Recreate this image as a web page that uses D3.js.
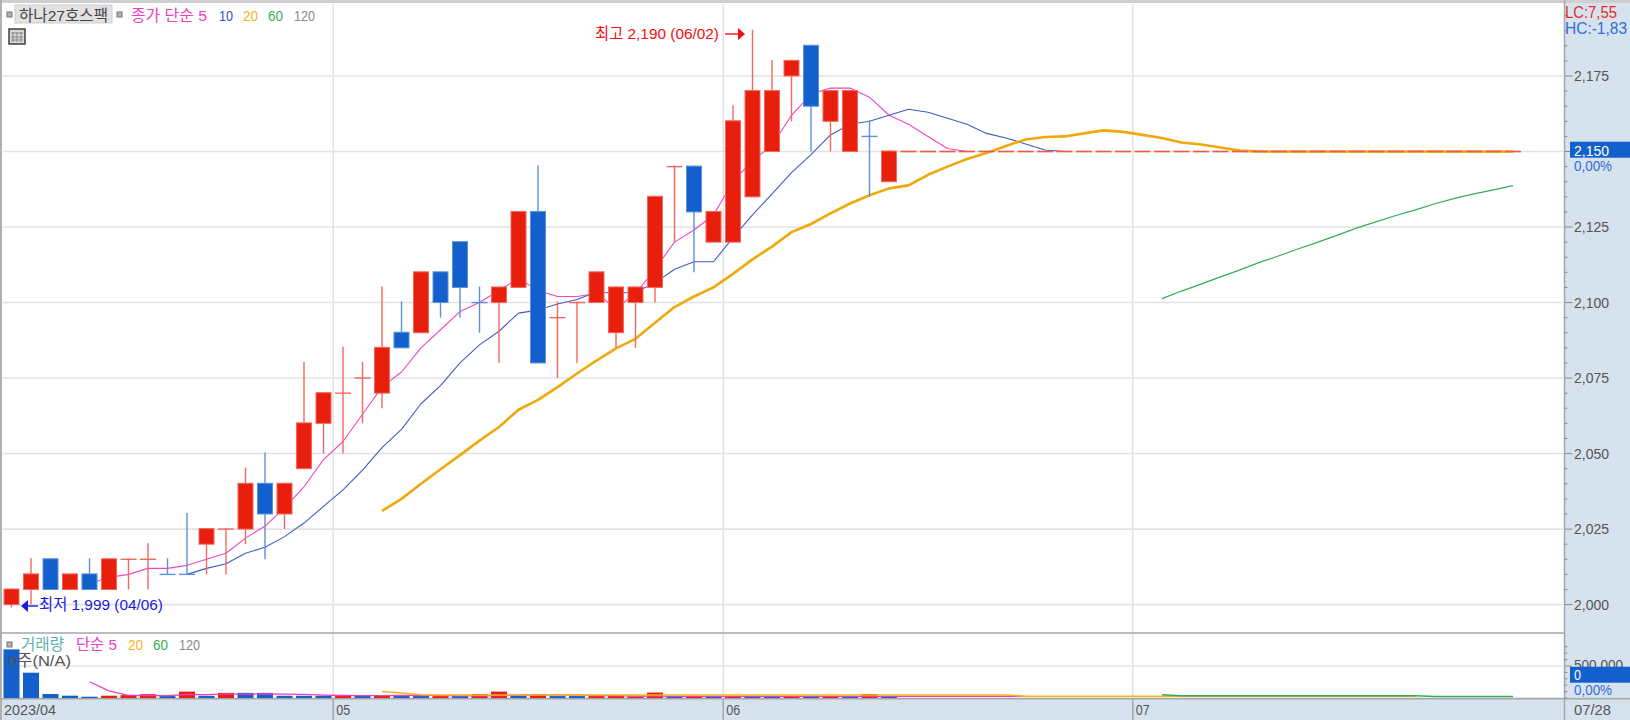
<!DOCTYPE html>
<html><head><meta charset="utf-8">
<script src="https://d3js.org/d3.v7.min.js"></script>
<style>
html,body{margin:0;padding:0;background:#fff;overflow:hidden}
svg{display:block}
text{font-family:"Liberation Sans","Noto Sans CJK KR",sans-serif}
</style></head><body>
<svg id="c" width="1630" height="720"></svg>
<script>
// ---- data ----
const opens  = [2000,2005,2015,2005,2010,2005,2015,2015,2010,2010,2020,2025,2025,2040,2030,2045,2060,2070,2075,2070,2090,2090,2110,2120,2100,2100,2105,2130,2095,2100,2100,2090,2100,2105,2145,2145,2120,2120,2135,2150,2175,2185,2160,2150,2155,2140];
const closes = [2005,2010,2005,2010,2005,2015,2015,2015,2010,2010,2025,2025,2040,2030,2040,2060,2070,2070,2075,2085,2085,2110,2100,2105,2100,2105,2130,2080,2095,2100,2110,2105,2105,2135,2145,2130,2130,2160,2170,2170,2180,2165,2170,2170,2155,2150];
const highs  = [2005,2015,2015,2010,2015,2015,2015,2020,2015,2030,2025,2025,2045,2050,2040,2080,2070,2085,2080,2105,2100,2110,2110,2120,2105,2105,2130,2145,2100,2100,2110,2105,2105,2135,2145,2145,2130,2165,2190,2180,2180,2185,2170,2170,2160,2150];
const lows   = [1999,2000,2005,2005,2005,2005,2005,2005,2010,2010,2010,2010,2020,2015,2025,2045,2050,2050,2060,2065,2085,2090,2095,2095,2090,2080,2105,2080,2075,2080,2100,2085,2085,2100,2120,2110,2120,2120,2135,2150,2160,2150,2150,2150,2135,2140];
const fallingDoji = [8,9,24,44];
const flatPrices = [2150,2150,2150,2150,2150,2150,2150,2150,2150,2150,2150,2150,2150,2150,2150,2150,2150,2150,2150,2150,2150,2150,2150,2150,2150,2150,2150,2150,2150,2150,2150,2150];
const ma5 = [2007,2009,2010,2012,2012,2013,2015,2017,2022,2026,2032,2039,2048,2054,2063,2072,2077,2085,2091,2097,2100,2104,2108,2104,2102,2102,2103,2098,2103,2111,2120,2124,2129,2140,2147,2152,2162,2169,2171,2171,2168,2162,2159,2155,2151,2150];
const ma5Start = 4;
const ma10 = [2010,2012,2013.5,2017,2019,2022.5,2027,2032.5,2038,2044.5,2052,2058,2066.5,2072.5,2080,2086,2090.5,2096.5,2097.5,2099.5,2101,2103.5,2103,2103.5,2106.5,2111,2113.5,2113.5,2121.5,2129,2136,2143,2149,2155.5,2159,2160,2162,2164,2163,2161,2159,2156,2154.5,2152.5,2150.5,2150];
const ma10Start = 9;
const ma20 = [2031,2035,2040,2044.8,2049.5,2054.3,2058.8,2064.5,2067.8,2072,2076.5,2080.8,2084.8,2088,2093.3,2098.5,2102,2105,2109.5,2114.3,2118.5,2123.3,2126,2129.5,2132.8,2135.5,2137.8,2138.8,2142.3,2145,2147.5,2149.5,2151.8,2154,2154.8,2155,2156,2157,2156.5,2155.5,2154.5,2153,2152.3,2151.3,2150.3,2150,2150,2150,2150,2150,2150,2150,2150,2150,2150,2150,2150,2150,2150];
const ma20Start = 19;
const ma60 = [2101.3,2103.8,2106.1,2108.5,2110.8,2113.3,2115.5,2117.8,2120,2122.3,2124.7,2126.8,2128.8,2130.7,2132.7,2134.5,2136,2137.3,2138.7];
const ma60Start = 59;
const volumes = [760000,395000,62000,36000,20000,36000,45000,60000,30000,100000,35000,80000,80000,80000,35000,35000,35000,40000,40000,40000,40000,30000,30000,30000,62000,100000,40000,52000,30000,30000,30000,30000,25000,85000,30000,30000,30000,30000,30000,30000,30000,30000,30000,30000,62000,30000];
const volUp = [0,0,0,0,0,1,1,1,0,1,0,1,0,0,0,0,0,1,0,1,0,0,1,0,1,1,0,1,0,0,1,1,1,1,0,1,0,1,0,0,1,0,1,0,1,0];
const volMa5 = [254000,110000,40000,39000,38000,55000,54000,65000,58000,66000,62000,56000,46000,39000,37000,38000,39000,40000,36000,34000,32000,38000,46000,51000,50000,49000,38000,36000,30000,29000,25000,25000,24000,24000,24000,24000,24000,24000,24000,24000,24000,24000,24000,24000,24000,24000,24000,24000,24000];
const volMa5Start = 4;
const volMa20 = [100000,78000,52000,46000,45000,45000,45000,45000,45000,45000,45000,45000,45000,45000,45000,45000,45000,45000,45000,45000,45000,45000,45000,45000,45000,45000,45000,45000,45000,45000,45000,45000,45000,26000,26000,26000,26000,26000,26000,26000,26000,26000,26000,26000,26000,26000,26000,26000,26000,26000,26000,26000,26000,26000];
const volMa20Start = 19;
const volMa60 = [52000,36000,36000,36000,36000,36000,36000,36000,36000,36000,36000,36000,36000,36000,22000,22000,22000,22000,22000];
const volMa60Start = 59;
const priceTicks = [2000,2025,2050,2075,2100,2125,2150,2175];
const monthLabels = [{i:17,t:"05"},{i:37,t:"06"},{i:58,t:"07"}];
const firstLabel = "2023/04", lastLabel = "07/28";

// ---- layout ----
const svg = d3.select("#c");
const W=1630, H=720, L=3, R=1564.5, T=4, MID=633, BOT=698.7;
const UP="#e81f0c", DOWN="#135fcb", UPW="#f2695c", DOWNW="#5b90dc", FLAT="#ee5a48";
const TXT="#555";

const x = d3.scaleBand().domain(d3.range(82)).range([1.75,1.75+82*19.5]);
const cx = i => x(i)+x.bandwidth()/2;
const y = d3.scaleLinear().domain([2000,2175]).range([604.6,76]);
const yv = d3.scaleLinear().domain([0,500000]).range([698,666]);
const bw = 16;

svg.append("rect").attr("width",W).attr("height",H).attr("fill","#fff");
const P="#d7e2ef";
svg.append("rect").attr("x",R).attr("y",0).attr("width",W-R).attr("height",H).attr("fill",P);
svg.append("rect").attr("x",0).attr("y",BOT).attr("width",W).attr("height",H-BOT).attr("fill",P);
svg.append("rect").attr("width",W).attr("height",3).attr("fill","#cfcfcf");
svg.append("rect").attr("width",2).attr("height",H).attr("fill","#b0b0b0");

// gridlines
const gp = svg.append("g").attr("stroke","#e3e3e3").attr("stroke-width",1.6);
priceTicks.forEach(v=>gp.append("line").attr("x1",L).attr("x2",R-2).attr("y1",y(v)).attr("y2",y(v)));
gp.append("line").attr("x1",L).attr("x2",R-2).attr("y1",yv(500000)).attr("y2",yv(500000));
gp.append("line").attr("x1",L).attr("x2",R-2).attr("y1",yv(0)).attr("y2",yv(0));
monthLabels.forEach(m=>gp.append("line").attr("x1",x(m.i)).attr("x2",x(m.i)).attr("y1",T).attr("y2",BOT));

// frame lines
const fr = svg.append("g").attr("stroke","#a6a6a6").attr("stroke-width",1.5);
fr.append("line").attr("x1",0).attr("x2",R).attr("y1",MID).attr("y2",MID);
fr.append("line").attr("x1",0).attr("x2",W).attr("y1",BOT).attr("y2",BOT);
fr.append("line").attr("x1",R).attr("x2",R).attr("y1",0).attr("y2",H);
monthLabels.forEach(m=>fr.append("line").attr("x1",x(m.i)).attr("x2",x(m.i)).attr("y1",BOT).attr("y2",H));

// value-axis ticks
const tg = svg.append("g").attr("stroke","#8c8c8c");
d3.range(2000,2196,5).forEach(v=>{
  tg.append("line").attr("x1",R).attr("x2",v%25===0?R+8:R+3).attr("y1",y(v)).attr("y2",y(v));
});
d3.range(0,800001,100000).forEach(v=>{
  tg.append("line").attr("x1",R).attr("x2",v===500000?R+7:R+3).attr("y1",yv(v)).attr("y2",yv(v));
});

// text helper
const FS=15.5;
const t = (xx,yy,s,c,fs,len)=>{const e=svg.append("text").attr("x",xx).attr("y",yy).attr("font-size",fs).attr("fill",c).text(s);
  if(len) e.attr("textLength",len).attr("lengthAdjust","spacingAndGlyphs"); return e;};
priceTicks.forEach(v=>{ if(v!==2150) t(1574,y(v)+5,d3.format(",")(v),TXT,FS,35); });

// volumes
const gv = svg.append("g");
volumes.forEach((v,i)=>{
  gv.append("rect").attr("x",cx(i)-bw/2).attr("y",yv(v)).attr("width",bw).attr("height",yv(0)-yv(v)).attr("fill",volUp[i]?UP:DOWN);
});
const lineOf = (arr,start,sc) => d3.line().x((d,i)=>cx(i+start)).y(d=>sc(d))(arr);
const path = (g,d,c,w)=>g.append("path").attr("d",d).attr("fill","none").attr("stroke",c).attr("stroke-width",w).attr("stroke-linejoin","round");
path(gv,lineOf(volMa5,volMa5Start,yv),"#ec3ec0",1.3);
path(gv,lineOf(volMa20,volMa20Start,yv),"#f4b21a",1.5);
path(gv,lineOf(volMa60,volMa60Start,yv),"#35ad57",1.5);

// moving averages
const gl = svg.append("g");
path(gl,lineOf(ma5,ma5Start,y),"#ee47c4",1.1);
path(gl,lineOf(ma10,ma10Start,y),"#3f5cc4",1.1);
path(gl,lineOf(ma60,ma60Start,y),"#35ad57",1.2);
path(gl,lineOf(ma20,ma20Start,y),"#efa90c",2.6);

// candles
const gc = svg.append("g");
opens.forEach((o,i)=>{
  const c=closes[i], up = c>o || (c===o && !fallingDoji.includes(i));
  const col = up?UP:DOWN, wc = up?UPW:DOWNW;
  gc.append("line").attr("x1",cx(i)).attr("x2",cx(i)).attr("y1",y(highs[i])-1).attr("y2",y(lows[i])).attr("stroke",wc).attr("stroke-width",1.4);
  if(o===c){
    gc.append("line").attr("x1",cx(i)-bw/2).attr("x2",cx(i)+bw/2).attr("y1",y(c)).attr("y2",y(c)).attr("stroke",wc).attr("stroke-width",1.4);
  } else {
    gc.append("rect").attr("x",cx(i)-bw/2+.5).attr("y",y(Math.max(o,c))-.5).attr("width",bw-1).attr("height",y(Math.min(o,c))-y(Math.max(o,c))+.5).attr("fill",col).attr("stroke",wc).attr("stroke-width",1);
  }
});
flatPrices.forEach((p,k)=>{
  const i=46+k;
  gc.append("line").attr("x1",cx(i)-bw/2).attr("x2",cx(i)+bw/2).attr("y1",y(p)).attr("y2",y(p)).attr("stroke",FLAT).attr("stroke-width",1.6);
});

// hi / lo annotations
t(595,39,"최고 2,190 (06/02)","#f01010",FS,124);
svg.append("line").attr("x1",725).attr("x2",739).attr("y1",34).attr("y2",34).attr("stroke","#f01010").attr("stroke-width",1.4);
svg.append("path").attr("d","M738 28 L745 34 L738 40 Z").attr("fill","#f01010");
t(39,610,"최저 1,999 (04/06)","#1a1ae6",FS,124);
svg.append("line").attr("x1",27).attr("x2",38).attr("y1",606).attr("y2",606).attr("stroke","#1a1ae6").attr("stroke-width",1.4);
svg.append("path").attr("d","M28 600 L21 606 L28 612 Z").attr("fill","#1a1ae6");

// axis labels
t(4,715,firstLabel,TXT,FS,52);
monthLabels.forEach(m=>t(x(m.i)+3,715,m.t,TXT,FS,14));
t(1574,715,lastLabel,TXT,FS,37);

// top right
t(1565,18.3,"LC:7,55","#e82b20",16,52);
t(1565,33.7,"HC:-1,83","#2f6fd6",16,62);
svg.append("rect").attr("x",1570).attr("y",141.7).attr("width",60).attr("height",16).attr("fill",DOWN);
t(1574,155.7,"2,150","#fff",FS,35);
t(1574,170.6,"0,00%","#2f6fd6",FS,38);
t(1574,670,"500,000",TXT,FS,49);
svg.append("rect").attr("x",1570).attr("y",666.7).attr("width",60).attr("height",16).attr("fill",DOWN);
t(1574,680,"0","#fff",FS,7);
t(1574,695,"0,00%","#2f6fd6",FS,38);

// legends
const sq=(xx,yy)=>svg.append("rect").attr("x",xx).attr("y",yy).attr("width",5).attr("height",5).attr("fill","#b0b0b0").attr("stroke","#777").attr("stroke-width",1);
sq(7,12);
svg.append("rect").attr("x",15).attr("y",5).attr("width",97).attr("height",18).attr("fill","#e2e2e2").attr("stroke","#d0d0d0");
t(19,20.7,"하나27호스팩","#444",FS,89);
sq(117,12);
const pink="#ec3ec0", gold="#f4b21a", green="#35ad57", grey="#888";
t(131,20.7,"종가 단순 5",pink,FS,76);
t(219,20.7,"10","#2c52c4",FS,14);
t(243,20.7,"20",gold,FS,15);
t(268,20.7,"60",green,FS,15);
t(294,20.7,"120",grey,FS,21);
sq(7,642);
t(21,649.5,"거래량","#5fb0a8",FS,43);
t(76,649.5,"단순 5",pink,FS,41);
t(128,649.5,"20",gold,FS,15);
t(153,649.5,"60",green,FS,15);
t(179,649.5,"120",grey,FS,21);
t(8,665.7,"0주(N/A)",TXT,FS,63);

// table icon
const ic=svg.append("g");
ic.append("rect").attr("x",9).attr("y",29).attr("width",16).attr("height",15).attr("fill","#d8d8d8").attr("stroke","#333").attr("stroke-width",1.4);
d3.range(1,4).forEach(k=>ic.append("line").attr("x1",9+k*4).attr("x2",9+k*4).attr("y1",32).attr("y2",42).attr("stroke","#888"));
[33,37,40].forEach(v=>ic.append("line").attr("x1",11).attr("x2",23).attr("y1",v).attr("y2",v).attr("stroke","#888"));
</script>
</body></html>
